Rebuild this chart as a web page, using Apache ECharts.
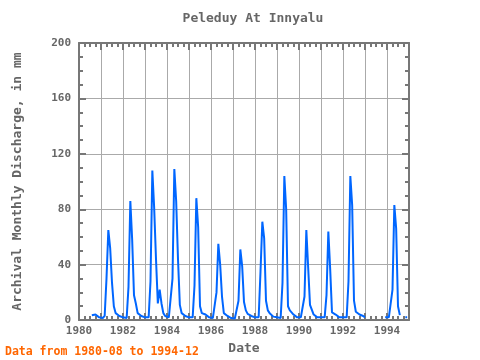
<!DOCTYPE html>
<html><head><meta charset="utf-8">
<script src="https://cdn.jsdelivr.net/npm/echarts@6/dist/echarts.min.js"></script>
<style>html,body{margin:0;padding:0;background:#fff}#c{width:480px;height:360px}</style>
</head><body><div id="c"></div>
<script>
// Monthly values, Jan..Dec, null = no data
const years = [1980,1981,1982,1983,1984,1985,1986,1987,1988,1989,1990,1991,1992,1993,1994];
const v1980 = [null,null,null,null,null,null,null,3.5,4,4,3,2];
const v1981 = [1.5,1.5,3,30,65,52,27,10,5,4,3,2.5];
const v1982 = [2,1.5,1.5,24,86,58,18,12,5,4,3,2];
const v1983 = [2,1.5,2,28,108,81,44,12,22,12,5,3];
const v1984 = [3,2,2,30,109,86,44,11,5,4,3,3];
const v1985 = [2,2,2,25,88,67,10,5,4,4,3,2];
const v1986 = [2,1.5,1.5,20,55,40,17,5,4,3,2.5,1.5];
const v1987 = [1.5,1.2,1.5,14,51,39,13,7,4.5,3.5,3,2.5];
const v1988 = [2,1.5,2,35,71,59,14,7,5,4,2.5,2];
const v1989 = [2,1.5,1.5,27,104,80,10,7,6,4,3,2];
const v1990 = [2,2,2,17,65,38,11,10,4,3,2,2];
const v1991 = [2,2,2,18,64,37,5.5,5,4,3,2,2];
const v1992 = [2,2,2,28,104,83,14,6,5,4,4,3];
const v1993 = [2,null,null,null,null,null,null,null,null,null,null,2];
const v1994 = [2,2,2,22,83,66,10,3.6,null,null,2,2];
const yearValues = [v1980,v1981,v1982,v1983,v1984,v1985,v1986,v1987,v1988,v1989,v1990,v1991,v1992,v1993,v1994];
const yTicks = [0,40,80,120,160,200];

const data = [];
years.forEach((y, i) => {
  yearValues[i].forEach((v, m) => {
    if (y === 1980 && v === null) return;
    data.push([y + m / 12, v]);
  });
});

const chart = echarts.init(document.getElementById('c'), null, {renderer: 'canvas'});
const font = 'DejaVu Sans Mono';
const txt = '#666666';
const axisCommon = {
  axisLine: {show: true, onZero: false, lineStyle: {color: '#777777', width: 2}},
  axisTick: {show: true, inside: true, length: 7, lineStyle: {color: '#777777', width: 2}},
  minorTick: {show: true, splitNumber: 4, length: 4, lineStyle: {color: '#777777', width: 2}},
};
chart.setOption({
  animation: false,
  backgroundColor: '#ffffff',
  title: {
    text: 'Peleduy At Innyalu', left: 248, top: 7, textAlign: 'center',
    textStyle: {fontFamily: font, fontSize: 13, fontWeight: 'bold', color: txt}
  },
  grid: {left: 79, right: 71, top: 43, bottom: 39, containLabel: false},
  xAxis: [
    Object.assign({
      type: 'value', min: 1980, max: 1995, interval: 1, position: 'bottom',
      name: 'Date', nameLocation: 'middle', nameGap: 19,
      nameTextStyle: {fontFamily: font, fontSize: 13, fontWeight: 'bold', color: txt},
      axisLabel: {fontFamily: font, fontSize: 11, fontWeight: 'bold', color: txt, margin: 6,
        formatter: v => (Math.round(v) % 2 === 0 ? String(Math.round(v)) : '')},
      splitLine: {show: true, lineStyle: {color: '#aaaaaa', width: 1}}
    }, axisCommon),
    Object.assign({
      type: 'value', min: 1980, max: 1995, interval: 1, position: 'top',
      axisLabel: {show: false}, splitLine: {show: false}
    }, axisCommon)
  ],
  yAxis: [
    Object.assign({
      type: 'value', min: yTicks[0], max: yTicks[yTicks.length - 1], interval: 40, position: 'left',
      name: 'Archival Monthly Discharge, in mm', nameLocation: 'middle', nameGap: 55,
      nameTextStyle: {fontFamily: font, fontSize: 13, fontWeight: 'bold', color: txt},
      axisLabel: {fontFamily: font, fontSize: 11, fontWeight: 'bold', color: txt, margin: 8},
      splitLine: {show: true, lineStyle: {color: '#aaaaaa', width: 1}}
    }, axisCommon),
    Object.assign({
      type: 'value', min: 0, max: 200, interval: 40, position: 'right',
      axisLabel: {show: false}, splitLine: {show: false}
    }, axisCommon)
  ],
  graphic: [{
    type: 'text', left: 5, top: 346,
    style: {text: 'Data from 1980-08 to 1994-12', fontFamily: font, fontSize: 11.5, fontWeight: 'bold', fill: '#ff6600'}
  }],
  series: [{
    type: 'line', data: data, xAxisIndex: 0, yAxisIndex: 0,
    showSymbol: false, connectNulls: false,
    lineStyle: {color: '#0066ff', width: 2}, itemStyle: {color: '#0066ff'}
  }]
});
</script></body></html>
